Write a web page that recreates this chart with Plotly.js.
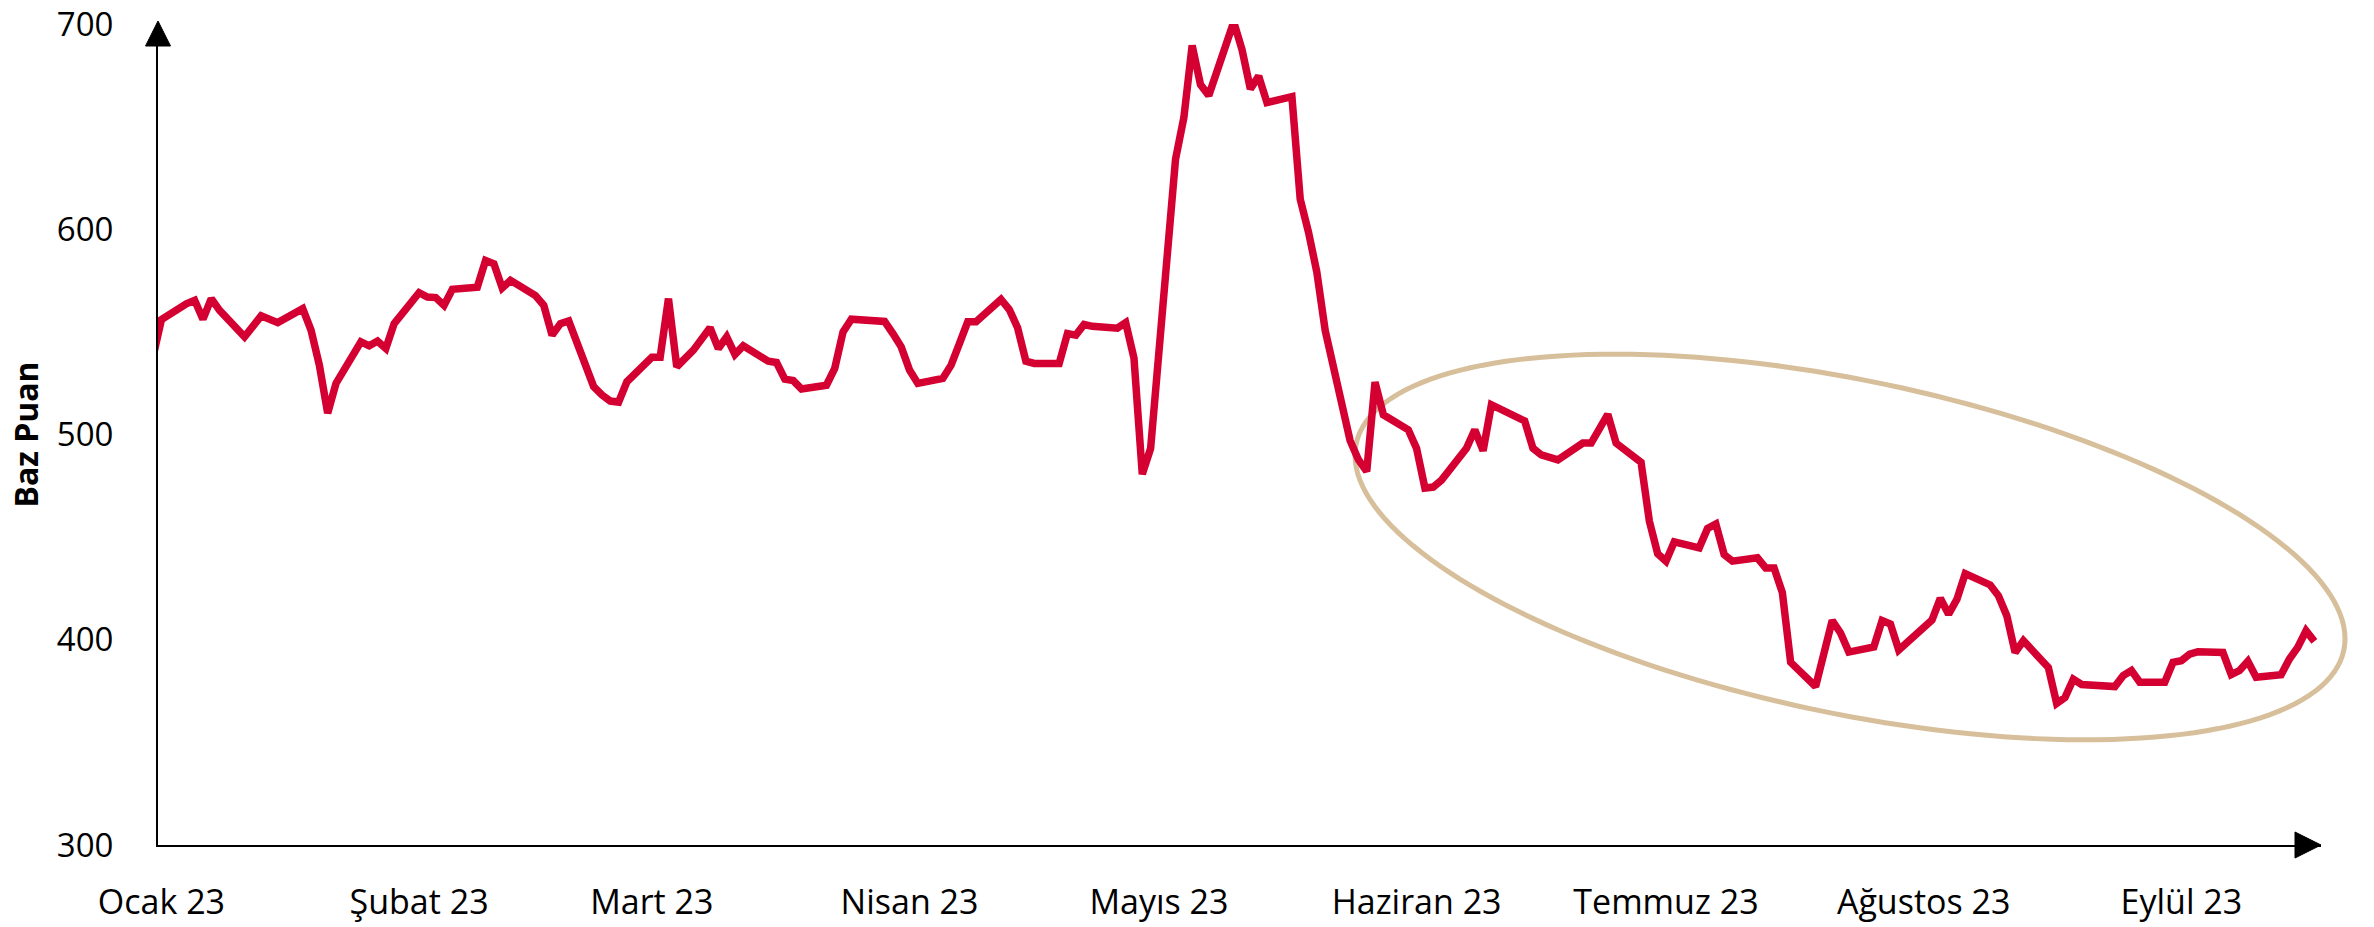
<!DOCTYPE html>
<html>
<head>
<meta charset="utf-8">
<script src="https://cdn.plot.ly/plotly-3.0.1.min.js"></script>
<style>html,body{margin:0;padding:0;background:#fff;}#chart{width:2374px;height:927px;}</style>
</head>
<body>
<div id="chart"></div>
<script>
// ---- Data ----
const dates = [
 '2022-12-31','2023-01-01','2023-01-04','2023-01-05','2023-01-06','2023-01-07','2023-01-08','2023-01-11','2023-01-13','2023-01-15',
 '2023-01-18','2023-01-19','2023-01-20','2023-01-21','2023-01-22','2023-01-25','2023-01-26','2023-01-27','2023-01-28','2023-01-29',
 '2023-02-01','2023-02-02','2023-02-03','2023-02-04','2023-02-05','2023-02-08','2023-02-09','2023-02-10','2023-02-11','2023-02-12',
 '2023-02-15','2023-02-16','2023-02-17','2023-02-18','2023-02-19','2023-02-22','2023-02-23','2023-02-24','2023-02-25','2023-02-26',
 '2023-03-01','2023-03-02','2023-03-03','2023-03-04','2023-03-06','2023-03-08','2023-03-09','2023-03-10','2023-03-11','2023-03-12',
 '2023-03-15','2023-03-16','2023-03-17','2023-03-18','2023-03-19','2023-03-22','2023-03-23','2023-03-24','2023-03-25','2023-03-29',
 '2023-03-30','2023-03-31','2023-04-01','2023-04-02','2023-04-05','2023-04-06','2023-04-07','2023-04-08','2023-04-09','2023-04-12',
 '2023-04-13','2023-04-14','2023-04-15','2023-04-16','2023-04-19','2023-04-20','2023-04-21','2023-04-22','2023-04-23','2023-04-26',
 '2023-04-27','2023-04-28','2023-04-29','2023-04-30','2023-05-03','2023-05-04','2023-05-05','2023-05-06','2023-05-07','2023-05-10',
 '2023-05-11','2023-05-12','2023-05-13','2023-05-14','2023-05-17','2023-05-18','2023-05-19','2023-05-20','2023-05-21','2023-05-24',
 '2023-05-25','2023-05-26','2023-05-27','2023-05-28','2023-05-31','2023-06-01','2023-06-02','2023-06-03','2023-06-04','2023-06-07',
 '2023-06-08','2023-06-09','2023-06-10','2023-06-14','2023-06-15','2023-06-16','2023-06-18','2023-06-21','2023-06-22','2023-06-24',
 '2023-06-25','2023-06-28','2023-06-29','2023-06-30','2023-07-01','2023-07-02','2023-07-05','2023-07-06','2023-07-07','2023-07-08',
 '2023-07-09','2023-07-12','2023-07-13','2023-07-14','2023-07-15','2023-07-16','2023-07-19','2023-07-20','2023-07-21','2023-07-22',
 '2023-07-23','2023-07-26','2023-07-27','2023-07-28','2023-07-29','2023-08-02','2023-08-03','2023-08-04','2023-08-05','2023-08-06',
 '2023-08-09','2023-08-10','2023-08-11','2023-08-12','2023-08-13','2023-08-16','2023-08-17','2023-08-18','2023-08-19','2023-08-20',
 '2023-08-24','2023-08-25','2023-08-26','2023-08-27','2023-08-30','2023-08-31','2023-09-01','2023-09-02','2023-09-03','2023-09-06',
 '2023-09-07','2023-09-08','2023-09-09','2023-09-10','2023-09-13','2023-09-14','2023-09-15','2023-09-16','2023-09-17'
];
const spread = [
 538,556,563.7,565.4,556.2,566.2,560.5,547.6,557.8,554.5,
 561.3,550.8,533.8,510.4,524.9,545.1,543.2,545.5,541.9,554,
 569.1,567,566.7,562.9,570.7,571.8,584.8,583.2,571.4,575.1,
 567.7,562.9,548.4,554,555.3,523.3,519.3,516.3,515.8,525.7,
 537.6,537.6,566.2,533,541.1,552,541.9,547.6,539,543.2,
 535.7,535.1,527,526.3,522.2,524,532.2,550,556.2,555.1,
 549.2,542.7,531.4,524.9,527.3,533.8,544.3,554.9,554.9,565.8,
 560.9,552,535.7,534.6,534.6,549.2,548.4,553.6,552.7,551.8,
 554.5,537.2,480.7,493.2,634.1,654.4,689.5,670.5,665.2,701,
 687.5,668.4,674.6,661.7,664.6,614.7,598.5,579.1,550.8,497,
 487.7,482,525.5,509.6,502.3,493.2,473.9,474.4,477.8,493.3,
 502.3,492.1,514.5,506.6,493.3,490.1,487.6,495.8,495.8,509.8,
 495.8,486.5,457.8,441.9,438.3,447.7,444.8,454.2,456.4,441.5,
 438.3,439.9,435,435,423,389,377.2,394.7,409.4,403.3,
 394,396.5,409.4,407.7,395,409.6,420.2,412.4,419.7,432.2,
 426.7,421.4,411.7,393.8,399.5,386.5,369,371.9,380.8,378.2,
 377.2,382.5,385,379.3,379.3,389,389.8,393,394.2,393.8,
 383,385,389.5,381.7,383,390.6,396.3,404.4,399.2
];
const xTickVals = ['2023-01-01','2023-02-01','2023-03-01','2023-04-01','2023-05-01','2023-06-01','2023-07-01','2023-08-01','2023-09-01'];
const xTickText = ['Ocak 23','Şubat 23','Mart 23','Nisan 23','Mayıs 23','Haziran 23','Temmuz 23','Ağustos 23','Eylül 23'];
const yTickVals = [300, 400, 500, 600, 700];
const yTitle = 'Baz Puan';

// ---- Layout geometry (pixels) ----
const W = 2374, H = 927;
const PL = 158, PR = 2321, PT = 24, PB = 845;
function px(x){ return (x - PL) / (PR - PL); }
function py(y){ return (PB - y) / (PB - PT); }

// arrowheads
const xArrow = `M ${px(2295)} ${py(832)} L ${px(2321)} ${py(845)} L ${px(2295)} ${py(858)} Z`;
const yArrow = `M ${px(145.5)} ${py(46)} L ${px(158)} ${py(21)} L ${px(170.5)} ${py(46)} Z`;

// highlight ellipse (rotated)
function ellipsePath(cx, cy, a, b, deg){
  const th = deg * Math.PI / 180, n = 180;
  let d = '';
  for (let i = 0; i <= n; i++){
    const t = 2 * Math.PI * i / n;
    const X = cx + a * Math.cos(t) * Math.cos(th) - b * Math.sin(t) * Math.sin(th);
    const Y = cy + a * Math.cos(t) * Math.sin(th) + b * Math.sin(t) * Math.cos(th);
    d += (i === 0 ? 'M ' : ' L ') + px(X).toFixed(5) + ' ' + py(Y).toFixed(5);
  }
  return d + ' Z';
}

const trace = {
  x: dates, y: spread, type: 'scatter', mode: 'lines',
  line: {color: '#D40032', width: 7.5, shape: 'linear'},
  hoverinfo: 'x+y'
};

const fam = 'Open Sans, Noto Sans, sans-serif';

const layout = {
  width: W, height: H,
  margin: {l: PL, r: W - PR, t: PT, b: H - PB, pad: 0},
  paper_bgcolor: '#fff', plot_bgcolor: 'rgba(0,0,0,0)',
  showlegend: false,
  xaxis: {
    type: 'date',
    range: ['2022-12-31 14:10', '2023-09-17 19:12'],
    tickmode: 'array', tickvals: xTickVals, ticktext: xTickText,
    showgrid: false, zeroline: false, showline: true, linecolor: '#000', linewidth: 2,
    ticks: '', tickfont: {family: fam, size: 34, color: '#000'}, ticklabelstandoff: 26,
    ticklabeloverflow: 'allow', automargin: false
  },
  yaxis: {
    range: [300, 700],
    tickmode: 'array', tickvals: yTickVals,
    showgrid: false, zeroline: false, showline: true, linecolor: '#000', linewidth: 2,
    ticks: '', tickfont: {family: fam, size: 33, color: '#000'}, ticklabelstandoff: 36,
    ticklabeloverflow: 'allow', automargin: false,
    title: {text: yTitle, font: {family: fam, size: 32, color: '#000', weight: 'bold'}, standoff: 9}
  },
  shapes: [
    {type: 'path', xref: 'paper', yref: 'paper', path: ellipsePath(1850, 547, 504.5, 166.4, 11.8),
     line: {color: '#D6BF9A', width: 5}, fillcolor: 'rgba(0,0,0,0)', layer: 'below'},
    {type: 'path', xref: 'paper', yref: 'paper', path: xArrow, fillcolor: '#000', line: {color: '#000', width: 1}},
    {type: 'path', xref: 'paper', yref: 'paper', path: yArrow, fillcolor: '#000', line: {color: '#000', width: 1}}
  ]
};

Plotly.newPlot('chart', [trace], layout, {displayModeBar: false, staticPlot: true});
</script>
</body>
</html>
